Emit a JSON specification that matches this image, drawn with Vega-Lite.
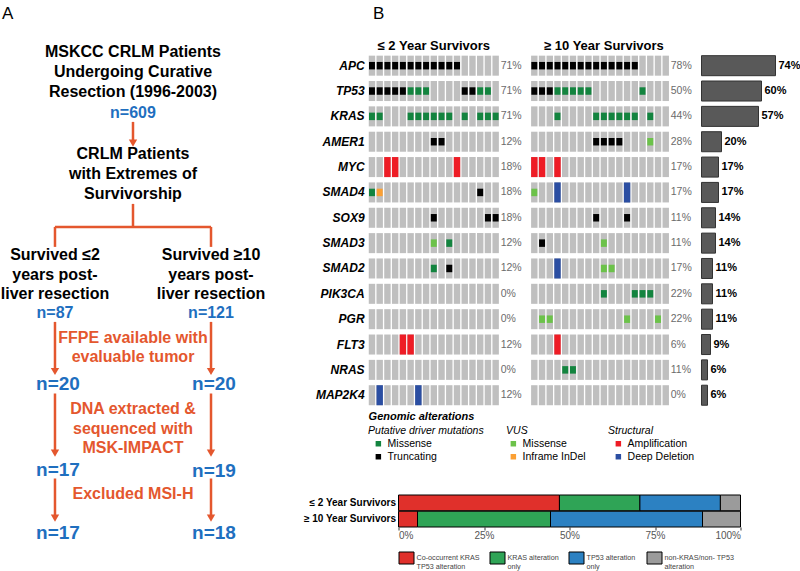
{
"$schema":"https://vega.github.io/schema/vega-lite/v6.json",
"padding":{"left":0,"top":4,"right":0,"bottom":0},
"background":"white",
"config":{"font":"Liberation Sans","view":{"stroke":null},"axis":{"grid":false},"legend":{"layout":{"bottom":{"margin":22,"anchor":"start"}}},"style":{"guide-label":{"lineHeight":9}}},
"datasets":{
"patients":[
{"s":"L01","APC":"Truncating","TP53":"Truncating","KRAS":"Missense","SMAD4":"Missense"},
{"s":"L02","APC":"Truncating","TP53":"Truncating","KRAS":"Missense","SMAD4":"Inframe InDel","MAP2K4":"Deep Deletion"},
{"s":"L03","APC":"Truncating","TP53":"Truncating","MYC":"Amplification"},
{"s":"L04","APC":"Truncating","TP53":"Truncating","MYC":"Amplification"},
{"s":"L05","APC":"Truncating","TP53":"Truncating","FLT3":"Amplification"},
{"s":"L06","APC":"Truncating","TP53":"Missense","KRAS":"Missense","FLT3":"Amplification"},
{"s":"L07","APC":"Truncating","TP53":"Missense","KRAS":"Missense","MAP2K4":"Deep Deletion"},
{"s":"L08","APC":"Truncating","TP53":"Missense","KRAS":"Missense"},
{"s":"L09","APC":"Truncating","KRAS":"Missense","AMER1":"Truncating","SOX9":"Truncating","SMAD3":"VUS Missense","SMAD2":"Missense"},
{"s":"L10","APC":"Truncating","KRAS":"Missense","AMER1":"Truncating"},
{"s":"L11","APC":"Truncating","KRAS":"Missense","SMAD3":"Missense","SMAD2":"Truncating"},
{"s":"L12","APC":"Truncating","MYC":"Amplification"},
{"s":"L13","TP53":"Truncating","KRAS":"Missense"},
{"s":"L14","TP53":"Truncating"},
{"s":"L15","TP53":"Missense","KRAS":"Missense","SMAD4":"Truncating"},
{"s":"L16","TP53":"Missense","KRAS":"Missense","SOX9":"Truncating"},
{"s":"L17","KRAS":"Missense","SOX9":"Truncating"},
{"s":"R01","APC":"Truncating","TP53":"Truncating","MYC":"Amplification","SMAD4":"VUS Missense"},
{"s":"R02","APC":"Truncating","TP53":"Truncating","MYC":"Amplification","SMAD3":"Truncating","PGR":"VUS Missense"},
{"s":"R03","APC":"Truncating","TP53":"Truncating","PGR":"VUS Missense"},
{"s":"R04","APC":"Truncating","TP53":"Missense","KRAS":"Missense","MYC":"Amplification","SMAD4":"Deep Deletion","SMAD2":"Deep Deletion","FLT3":"Amplification"},
{"s":"R05","APC":"Truncating","TP53":"Missense","NRAS":"Missense"},
{"s":"R06","APC":"Truncating","TP53":"Missense","NRAS":"Missense"},
{"s":"R07","APC":"Truncating","TP53":"Missense"},
{"s":"R08","APC":"Truncating","TP53":"Missense"},
{"s":"R09","APC":"Truncating","KRAS":"Missense","AMER1":"Truncating","SOX9":"Truncating"},
{"s":"R10","APC":"Truncating","KRAS":"Missense","AMER1":"Truncating","SMAD3":"VUS Missense","SMAD2":"VUS Missense","PIK3CA":"Missense"},
{"s":"R11","APC":"Truncating","KRAS":"Missense","AMER1":"Truncating","SMAD2":"VUS Missense"},
{"s":"R12","APC":"Truncating","KRAS":"Missense","AMER1":"Truncating"},
{"s":"R13","APC":"Truncating","KRAS":"Missense","SMAD4":"Deep Deletion","SOX9":"Truncating","PGR":"VUS Missense"},
{"s":"R14","APC":"Truncating","KRAS":"Missense","PIK3CA":"Missense"},
{"s":"R15","TP53":"Missense","PIK3CA":"Missense"},
{"s":"R16","KRAS":"Missense","AMER1":"VUS Missense","PIK3CA":"Missense"},
{"s":"R17","PGR":"VUS Missense"},
{"s":"R18"}
],
"genes":[
{"g":"APC","pL":0.71,"pR":0.78,"tot":0.74},
{"g":"TP53","pL":0.71,"pR":0.50,"tot":0.60},
{"g":"KRAS","pL":0.71,"pR":0.44,"tot":0.57},
{"g":"AMER1","pL":0.12,"pR":0.28,"tot":0.20},
{"g":"MYC","pL":0.18,"pR":0.17,"tot":0.17},
{"g":"SMAD4","pL":0.18,"pR":0.17,"tot":0.17},
{"g":"SOX9","pL":0.18,"pR":0.11,"tot":0.14},
{"g":"SMAD3","pL":0.12,"pR":0.11,"tot":0.14},
{"g":"SMAD2","pL":0.12,"pR":0.17,"tot":0.11},
{"g":"PIK3CA","pL":0,"pR":0.22,"tot":0.11},
{"g":"PGR","pL":0,"pR":0.22,"tot":0.11},
{"g":"FLT3","pL":0.12,"pR":0.06,"tot":0.09},
{"g":"NRAS","pL":0,"pR":0.11,"tot":0.06},
{"g":"MAP2K4","pL":0.12,"pR":0,"tot":0.06}
],
"outcome":[
{"grp":"≤ 2 Year Survivors","cat":"Co-occurrent KRAS|TP53 alteration","k":1,"n":8},
{"grp":"≤ 2 Year Survivors","cat":"KRAS alteration|only","k":2,"n":4},
{"grp":"≤ 2 Year Survivors","cat":"TP53  alteration|only","k":3,"n":4},
{"grp":"≤ 2 Year Survivors","cat":"non-KRAS/non- TP53|alteration","k":4,"n":1},
{"grp":"≥ 10 Year Survivors","cat":"Co-occurrent KRAS|TP53 alteration","k":1,"n":1},
{"grp":"≥ 10 Year Survivors","cat":"KRAS alteration|only","k":2,"n":7},
{"grp":"≥ 10 Year Survivors","cat":"TP53  alteration|only","k":3,"n":8},
{"grp":"≥ 10 Year Survivors","cat":"non-KRAS/non- TP53|alteration","k":4,"n":2}
],
"flow":[
{"c":0,"r":0,"k":"node","t":"MSKCC CRLM Patients"},
{"c":0,"r":1,"k":"node","t":"Undergoing Curative"},
{"c":0,"r":2,"k":"node","t":"Resection (1996-2003)"},
{"c":0,"r":3.05,"k":"count","t":"n=609"},
{"c":0,"r":5.1,"k":"node","t":"CRLM Patients"},
{"c":0,"r":6.1,"k":"node","t":"with Extremes of"},
{"c":0,"r":7.1,"k":"node","t":"Survivorship"},
{"c":-1,"r":10.15,"k":"node","t":"Survived  ≤2"},
{"c":-1,"r":11.15,"k":"node","t":"years post-"},
{"c":-1,"r":12.1,"k":"node","t":"liver resection"},
{"c":1,"r":10.15,"k":"node","t":"Survived  ≥10"},
{"c":1,"r":11.15,"k":"node","t":"years post-"},
{"c":1,"r":12.1,"k":"node","t":"liver resection"},
{"c":-1,"r":13.05,"k":"count","t":"n=87"},
{"c":1,"r":13.05,"k":"count","t":"n=121"},
{"c":0,"r":14.3,"k":"step","t":"FFPE available with"},
{"c":0,"r":15.25,"k":"step","t":"evaluable tumor"},
{"c":-1,"r":16.6,"k":"big","t":"n=20"},
{"c":1,"r":16.6,"k":"big","t":"n=20"},
{"c":0,"r":17.85,"k":"step","t":"DNA extracted &"},
{"c":0,"r":18.85,"k":"step","t":"sequenced with"},
{"c":0,"r":19.8,"k":"step","t":"MSK-IMPACT"},
{"c":-1,"r":20.9,"k":"big","t":"n=17"},
{"c":1,"r":20.95,"k":"big","t":"n=19"},
{"c":0,"r":22.1,"k":"step","t":"Excluded MSI-H"},
{"c":-1,"r":24.05,"k":"big","t":"n=17"},
{"c":1,"r":24.05,"k":"big","t":"n=18"}
],
"links":[
{"c1":0,"c2":0,"r1":3.5,"r2":4.56,"head":true},
{"c1":0,"c2":0,"r1":7.6,"r2":8.75,"head":false},
{"c1":-1,"c2":1,"r1":8.75,"r2":8.75,"head":false},
{"c1":-1,"c2":-1,"r1":8.75,"r2":9.75,"head":false},
{"c1":1,"c2":1,"r1":8.75,"r2":9.75,"head":false},
{"c1":-1,"c2":-1,"r1":13.5,"r2":15.98,"head":true},
{"c1":1,"c2":1,"r1":13.5,"r2":15.98,"head":true},
{"c1":-1,"c2":-1,"r1":17.08,"r2":20.06,"head":true},
{"c1":1,"c2":1,"r1":17.08,"r2":20.06,"head":true},
{"c1":-1,"c2":-1,"r1":21.33,"r2":23.31,"head":true},
{"c1":1,"c2":1,"r1":21.33,"r2":23.31,"head":true}
]
},
"spacing":32,
"resolve":{"scale":{"color":"independent"},"legend":{"color":"independent"}},
"hconcat":[
{
"title":{"text":"A","anchor":"start","frame":"group","fontSize":17,"fontWeight":"normal","offset":21,"dx":1,"color":"#000"},
"width":270,"height":490,
"layer":[
{"data":{"name":"links"},"mark":{"type":"rule","color":"#E4572E","strokeWidth":2.5},
 "encoding":{
  "x":{"field":"c1","type":"quantitative","scale":{"domain":[-1.692,1.769],"nice":false,"zero":false},"axis":null},
  "x2":{"field":"c2"},
  "y":{"field":"r1","type":"quantitative","scale":{"domain":[0.055,24.555],"nice":false,"zero":false,"reverse":true},"axis":null},
  "y2":{"field":"r2"}}},
{"data":{"name":"links"},"transform":[{"filter":"datum.head"}],"mark":{"type":"point","shape":"triangle-down","size":70,"filled":true,"opacity":1,"color":"#E4572E"},
 "encoding":{
  "x":{"field":"c2","type":"quantitative","scale":{"domain":[-1.692,1.769],"nice":false,"zero":false},"axis":null},
  "y":{"field":"r2","type":"quantitative","scale":{"domain":[0.055,24.555],"nice":false,"zero":false,"reverse":true},"axis":null}}},
{"data":{"name":"flow"},"transform":[{"filter":"datum.k == 'node'"}],"mark":{"type":"text","fontSize":16,"fontWeight":"bold","color":"#000","baseline":"middle"},
 "encoding":{
  "x":{"field":"c","type":"quantitative","scale":{"domain":[-1.692,1.769],"nice":false,"zero":false},"axis":null},
  "y":{"field":"r","type":"quantitative","scale":{"domain":[0.055,24.555],"nice":false,"zero":false,"reverse":true},"axis":null},
  "text":{"field":"t"}}},
{"data":{"name":"flow"},"transform":[{"filter":"datum.k == 'count'"}],"mark":{"type":"text","fontSize":16,"fontWeight":"bold","color":"#1F6FBF","baseline":"middle"},
 "encoding":{
  "x":{"field":"c","type":"quantitative","scale":{"domain":[-1.692,1.769],"nice":false,"zero":false},"axis":null},
  "y":{"field":"r","type":"quantitative","scale":{"domain":[0.055,24.555],"nice":false,"zero":false,"reverse":true},"axis":null},
  "text":{"field":"t"}}},
{"data":{"name":"flow"},"transform":[{"filter":"datum.k == 'big'"}],"mark":{"type":"text","fontSize":19,"fontWeight":"bold","color":"#1F6FBF","baseline":"middle","dx":3},
 "encoding":{
  "x":{"field":"c","type":"quantitative","scale":{"domain":[-1.692,1.769],"nice":false,"zero":false},"axis":null},
  "y":{"field":"r","type":"quantitative","scale":{"domain":[0.055,24.555],"nice":false,"zero":false,"reverse":true},"axis":null},
  "text":{"field":"t"}}},
{"data":{"name":"flow"},"transform":[{"filter":"datum.k == 'step'"}],"mark":{"type":"text","fontSize":16,"fontWeight":"bold","color":"#E4572E","baseline":"middle"},
 "encoding":{
  "x":{"field":"c","type":"quantitative","scale":{"domain":[-1.692,1.769],"nice":false,"zero":false},"axis":null},
  "y":{"field":"r","type":"quantitative","scale":{"domain":[0.055,24.555],"nice":false,"zero":false,"reverse":true},"axis":null},
  "text":{"field":"t"}}}
]
},
{
"vconcat":[
{
"title":{"text":"B","anchor":"start","frame":"group","fontSize":17,"fontWeight":"normal","offset":17,"dx":5,"color":"#000"},
"width":402.8,"height":354.9,
"encoding":{"y":{"field":"g","type":"nominal","scale":{"domain":["APC","TP53","KRAS","AMER1","MYC","SMAD4","SOX9","SMAD3","SMAD2","PIK3CA","PGR","FLT3","NRAS","MAP2K4"],"paddingInner":0.21,"paddingOuter":0.105},
 "axis":{"title":null,"domain":false,"ticks":false,"labelPadding":4,"labelFontSize":12,"labelFontWeight":"bold","labelFontStyle":"italic","labelColor":"#000"}}},
"layer":[
{
"encoding":{"x":{"field":"s","type":"nominal","scale":{"domain":["L01","L02","L03","L04","L05","L06","L07","L08","L09","L10","L11","L12","L13","L14","L15","L16","L17","gap1","gap2","gap3","gap4","R01","R02","R03","R04","R05","R06","R07","R08","R09","R10","R11","R12","R13","R14","R15","R16","R17","R18"],"range":[0,301.5],"paddingInner":0.17,"paddingOuter":0.085},
 "axis":{"title":"Genomic alterations","orient":"bottom","labels":false,"ticks":false,"domain":false,"titleAnchor":"start","titleFontSize":11,"titleFontWeight":"bold","titleFontStyle":"italic","titlePadding":3,"titleColor":"#000"}}},
"layer":[
{"data":{"name":"patients"},"transform":[{"fold":["APC","TP53","KRAS","AMER1","MYC","SMAD4","SOX9","SMAD3","SMAD2","PIK3CA","PGR","FLT3","NRAS","MAP2K4"],"as":["g","a"]}],
 "mark":{"type":"rect","color":"#BFBFBF"}},
{"data":{"name":"patients"},"transform":[{"fold":["APC","TP53","KRAS","AMER1","MYC","SMAD4","SOX9","SMAD3","SMAD2","PIK3CA","PGR","FLT3","NRAS","MAP2K4"],"as":["g","a"]},{"filter":{"field":"a","oneOf":["Missense","Truncating"]}}],
 "mark":{"type":"point","shape":"M-0.8,-1H0.8V1H-0.8Z","size":56,"filled":true,"opacity":1,"strokeWidth":0},
 "encoding":{"color":{"field":"a","type":"nominal","scale":{"domain":["Missense","Truncating"],"range":["#13843F","#000000"]},
  "legend":{"title":"Putative driver mutations","orient":"bottom","direction":"vertical","offset":4,"symbolType":"square","symbolSize":30,"symbolStrokeWidth":0,"symbolOffset":5,"labelFontSize":10.5,"labelOffset":4,"labelColor":"#000","titleFontSize":10.5,"titleFontStyle":"italic","titleFontWeight":"normal","titleColor":"#000","titlePadding":2,"rowPadding":2}}}},
{"data":{"name":"patients"},"transform":[{"fold":["APC","TP53","KRAS","AMER1","MYC","SMAD4","SOX9","SMAD3","SMAD2","PIK3CA","PGR","FLT3","NRAS","MAP2K4"],"as":["g","a"]},{"filter":{"field":"a","oneOf":["VUS Missense","Inframe InDel"]}}],
 "mark":{"type":"point","shape":"M-0.8,-1H0.8V1H-0.8Z","size":56,"filled":true,"opacity":1,"strokeWidth":0},
 "encoding":{"color":{"field":"a","type":"nominal","scale":{"domain":["VUS Missense","Inframe InDel"],"range":["#6CC24A","#FBA034"]},
  "legend":{"title":"VUS","orient":"bottom","direction":"vertical","offset":4,"symbolType":"square","symbolSize":30,"symbolStrokeWidth":0,"symbolOffset":2,"labelFontSize":10.5,"labelOffset":4,"labelColor":"#000","titleFontSize":10.5,"titleFontStyle":"italic","titleFontWeight":"normal","titleColor":"#000","titlePadding":2,"rowPadding":2,"labelExpr":"datum.label == 'VUS Missense' ? 'Missense' : datum.label"}}}},
{"data":{"name":"patients"},"transform":[{"fold":["APC","TP53","KRAS","AMER1","MYC","SMAD4","SOX9","SMAD3","SMAD2","PIK3CA","PGR","FLT3","NRAS","MAP2K4"],"as":["g","a"]},{"filter":{"field":"a","oneOf":["Amplification","Deep Deletion"]}}],
 "mark":{"type":"rect"},
 "encoding":{"color":{"field":"a","type":"nominal","scale":{"domain":["Amplification","Deep Deletion"],"range":["#EE1C25","#2B4EA2"]},
  "legend":{"title":"Structural","orient":"bottom","direction":"vertical","offset":4,"symbolType":"square","symbolSize":30,"symbolStrokeWidth":0,"symbolOffset":5,"labelFontSize":10.5,"labelOffset":4,"labelColor":"#000","titleFontSize":10.5,"titleFontStyle":"italic","titleFontWeight":"normal","titleColor":"#000","titlePadding":2,"rowPadding":2}}}},
{"data":{"name":"genes"},"mark":{"type":"text","align":"left","baseline":"middle","dx":5,"fontSize":10.5,"color":"#6B6B6B"},
 "encoding":{"x":{"datum":"L17"},"text":{"field":"pL","type":"quantitative","format":".0%"}}},
{"data":{"name":"genes"},"mark":{"type":"text","align":"left","baseline":"middle","dx":5,"fontSize":10.5,"color":"#6B6B6B"},
 "encoding":{"x":{"datum":"R18"},"text":{"field":"pR","type":"quantitative","format":".0%"}}},
{"data":{"values":[{}]},"mark":{"type":"text","baseline":"alphabetic","dy":-16,"fontSize":13,"fontWeight":"bold","color":"#000"},
 "encoding":{"x":{"datum":"L09"},"y":{"datum":"APC"},"text":{"value":"≤ 2 Year Survivors"}}},
{"data":{"values":[{}]},"mark":{"type":"text","baseline":"alphabetic","dy":-16,"fontSize":13,"fontWeight":"bold","color":"#000"},
 "encoding":{"x":{"datum":"R10"},"y":{"datum":"APC"},"text":{"value":"≥ 10 Year Survivors"}}}
],
"resolve":{"scale":{"color":"independent"}}
},
{
"data":{"name":"genes"},
"encoding":{"x":{"field":"tot","type":"quantitative","scale":{"domain":[0,1],"range":[333.4,433.4],"nice":false,"zero":true},"axis":null}},
"layer":[
{"mark":{"type":"bar","color":"#595959","stroke":"#333333","strokeWidth":1}},
{"mark":{"type":"text","align":"left","baseline":"middle","dx":3,"fontSize":11,"fontWeight":"bold","color":"#000"},
 "encoding":{"text":{"field":"tot","type":"quantitative","format":".0%"}}},
{"data":{"values":[{}]},"mark":{"type":"text","baseline":"alphabetic","dy":-16,"fontSize":13,"fontWeight":"bold","color":"#000"},
 "encoding":{"x":{"datum":0.44,"type":"quantitative","axis":null},"y":{"datum":"APC"},"text":{"value":"% total alterations"}}}
]
}
],
"resolve":{"scale":{"x":"independent","color":"independent"}}
},
{
"width":342,"height":32,
"data":{"name":"outcome"},
"mark":{"type":"bar","stroke":"#000","strokeWidth":1},
"encoding":{
 "y":{"field":"grp","type":"nominal","scale":{"domain":["≤ 2 Year Survivors","≥ 10 Year Survivors"],"paddingInner":0.03,"paddingOuter":0},
  "axis":{"title":null,"domain":false,"ticks":false,"labelPadding":3,"labelFontSize":10,"labelFontWeight":"bold","labelColor":"#000"}},
 "x":{"field":"n","type":"quantitative","stack":"normalize","scale":{"domain":[0,1],"nice":false},
  "axis":{"title":null,"format":".0%","values":[0,0.25,0.5,0.75,1],"domain":false,"tickSize":3,"tickColor":"#333","labelFontSize":10,"labelColor":"#555","labelPadding":0,"grid":false}},
 "color":{"field":"cat","type":"nominal","scale":{"domain":["Co-occurrent KRAS|TP53 alteration","KRAS alteration|only","TP53  alteration|only","non-KRAS/non- TP53|alteration"],"range":["#E0302B","#2FA456","#2C81C2","#9B9B9B"]},
  "legend":{"title":null,"orient":"bottom","direction":"horizontal","offset":9.5,"gridAlign":"none","columnPadding":7,"symbolType":"M-1,-0.8H1V0.8H-1Z","symbolSize":225,"symbolStrokeColor":"#000","symbolStrokeWidth":1,"labelExpr":"split(datum.label,'|')","labelFontSize":7.2,"labelColor":"#444","labelOffset":2}},
 "order":{"field":"k","type":"quantitative"}
}
}
],
"spacing":87,
"bounds":"flush",
"center":true,
"resolve":{"scale":{"color":"independent"},"legend":{"color":"independent"}}
}
]
}
